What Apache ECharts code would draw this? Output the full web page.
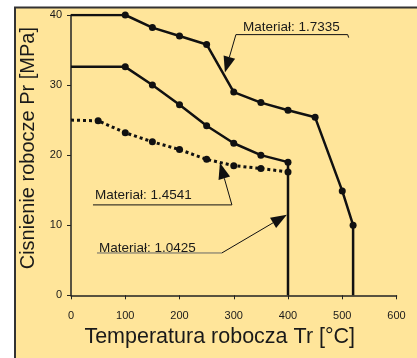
<!DOCTYPE html>
<html><head><meta charset="utf-8">
<script src="https://cdn.jsdelivr.net/npm/echarts@6/dist/echarts.min.js"></script>
<style>html,body{margin:0;padding:0;background:#fff}#c{width:417px;height:358px}</style>
</head><body><div id="c"></div>
<script>
// Material 1.7335 (top curve)
var mat17335X = [0, 100, 150, 200, 250, 300, 350, 400, 450, 500, 520, 520];
var mat17335Y = [40, 40, 38.2, 37.0, 35.8, 29.0, 27.5, 26.4, 25.4, 14.9, 10.0, 0];
// Middle solid curve
var matMidX = [0, 100, 150, 200, 250, 300, 350, 400, 400];
var matMidY = [32.6, 32.6, 30.0, 27.2, 24.2, 21.7, 20.0, 19.0, 0];
// Dotted curve
var matDotX = [0, 50, 100, 150, 200, 250, 300, 350, 400];
var matDotY = [25.0, 24.9, 23.2, 21.9, 20.8, 19.4, 18.5, 18.1, 17.6];
// Points drawn without marker (start / vertical drop)
var noMarker17335 = [0, 11];
var noMarkerMid = [0, 8];
var noMarkerDot = [0];
// Annotation labels
var annLabels = ['Materiał: 1.7335', 'Materiał: 1.4541', 'Materiał: 1.0425'];
// underline left [x,y], underline right x, arrow tip [x,y] in data units
var annLeft = [[304, 37.2], [40.5, 12.9], [47.9, 6.04]];
var annRightX = [510, 296.6, 278];
var annTip = [[283.7, 31.8], [274.5, 18.9], [397.9, 11.5]];

function mk(xs, ys, skip) {
  return xs.map(function (x, i) {
    var p = {value: [x, ys[i]]};
    if (skip.indexOf(i) >= 0) p.symbol = 'none';
    return p;
  });
}
var chart = echarts.init(document.getElementById('c'));
var txt = '#1a1a1a';
var font = 'Liberation Sans, Arial, sans-serif';
var option = {
  backgroundColor: '#ffffff',
  animation: false,
  grid: {left: 71, right: 20.5, top: 15, bottom: 62.7},
  xAxis: {
    type: 'value', min: 0, max: 600, interval: 100,
    name: 'Temperatura robocza Tr [°C]', nameLocation: 'middle', nameGap: 29,
    nameTextStyle: {fontSize: 21.5, color: txt, fontFamily: font, padding: [0, 28, 0, 0]},
    axisLine: {lineStyle: {color: '#222', width: 1.5}},
    axisTick: {show: true, length: 4, lineStyle: {color: '#222', width: 1}},
    axisLabel: {fontSize: 11, color: txt, fontFamily: font, margin: 15},
    splitLine: {show: false}
  },
  yAxis: {
    type: 'value', min: 0, max: 40, interval: 10,
    name: 'Cisnienie robocze Pr [MPa]', nameLocation: 'middle', nameGap: 30,
    nameTextStyle: {fontSize: 20, color: txt, fontFamily: font, padding: [0, 0, 0, 14]},
    axisLine: {show: true, lineStyle: {color: '#222', width: 1.5}},
    axisTick: {show: true, length: 4, lineStyle: {color: '#222', width: 1}},
    axisLabel: {fontSize: 11, color: txt, fontFamily: font, margin: 9},
    splitLine: {show: false}
  },
  series: [
    {type: 'line', data: mk(mat17335X, mat17335Y, noMarker17335), symbol: 'circle', symbolSize: 7,
     itemStyle: {color: '#111'}, lineStyle: {color: '#111', width: 2.5}, z: 5},
    {type: 'line', data: mk(matMidX, matMidY, noMarkerMid), symbol: 'circle', symbolSize: 7,
     itemStyle: {color: '#111'}, lineStyle: {color: '#111', width: 2.5}, z: 5},
    {type: 'line', data: mk(matDotX, matDotY, noMarkerDot), symbol: 'circle', symbolSize: 7,
     itemStyle: {color: '#111'}, lineStyle: {color: '#111', width: 3, type: [3, 3]}, z: 5}
  ]
};
chart.setOption(option);

function px(p) { return chart.convertToPixel({gridIndex: 0}, p); }
var g = [{
  type: 'rect', z: -100, silent: true,
  shape: {x: 15, y: 7.5, width: 420, height: 360},
  style: {fill: '#FFE59A', stroke: '#333', lineWidth: 2}
}];
for (var i = 0; i < annLabels.length; i++) {
  var L = px(annLeft[i]);
  var R = px([annRightX[i], annLeft[i][1]]);
  var T = px(annTip[i]);
  var lineCol = i === 2 ? '#666' : '#111';
  var pts = [[R[0], R[1]], [L[0], L[1]]];
  if (i === 0) pts = [[R[0] + 1, R[1] + 3], [R[0], R[1]], [L[0], L[1]]];
  g.push({type: 'polyline', z: 50, shape: {points: pts}, style: {stroke: lineCol, lineWidth: 1, fill: null}});
  var S = i === 0 ? L : R;
  var dx = T[0] - S[0], dy = T[1] - S[1], len = Math.sqrt(dx * dx + dy * dy);
  var ux = dx / len, uy = dy / len, hl = 16, hw = 6;
  var B = [T[0] - ux * hl, T[1] - uy * hl];
  g.push({type: 'line', z: 50, shape: {x1: S[0], y1: S[1], x2: B[0], y2: B[1]}, style: {stroke: '#111', lineWidth: 1}});
  g.push({type: 'polygon', z: 51, shape: {points: [[T[0], T[1]], [B[0] - uy * hw, B[1] + ux * hw], [B[0] + uy * hw, B[1] - ux * hw]]},
    style: {fill: '#111'}});
  var textX = i === 0 ? L[0] + 7 : L[0] + 2;
  var off = i === 0 ? 0 : (i === 1 ? -3 : 2);
  g.push({type: 'text', z: 52, x: textX, y: L[1] + off,
    style: {text: annLabels[i], fill: txt, font: '13.5px ' + font, textVerticalAlign: 'bottom', verticalAlign: 'bottom'}});
}
chart.setOption({graphic: g});
</script>
</body></html>
